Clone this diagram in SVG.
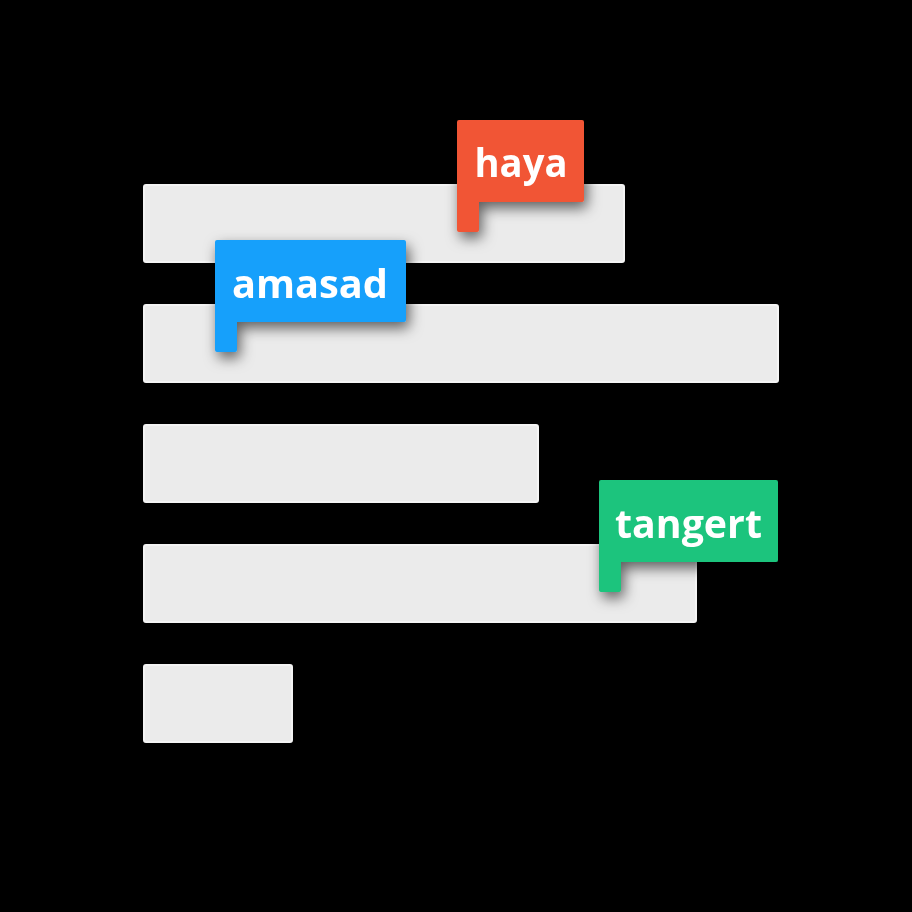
<svg xmlns="http://www.w3.org/2000/svg" width="912" height="912" viewBox="0 0 912 912">
<defs>
<style>
.bar{fill:#ebebeb;stroke:#f4f4f4;stroke-width:2}
.lbl{font-family:"Open Sans","DejaVu Sans",sans-serif;font-weight:700;font-size:39px;fill:#ffffff}
</style>
<filter id="sh" x="-30%" y="-30%" width="170%" height="180%">
<feDropShadow dx="3" dy="6" stdDeviation="7" flood-color="#000" flood-opacity="0.6"/>
</filter>
</defs>
<rect width="912" height="912" fill="#000"/>
<g id="bars">
<rect id="bar1" class="bar" x="144" y="185" width="480" height="77" rx="2"/>
<rect id="bar2" class="bar" x="144" y="305" width="634" height="77" rx="2"/>
<rect id="bar3" class="bar" x="144" y="425" width="394" height="77" rx="2"/>
<rect id="bar4" class="bar" x="144" y="545" width="552" height="77" rx="2"/>
<rect id="bar5" class="bar" x="144" y="665" width="148" height="77" rx="2"/>
</g>
<g id="connectors"></g>
<g id="haya" filter="url(#sh)">
<path d="M459,120 H582 Q584,120 584,122 V200 Q584,202 582,202 H479 V230 Q479,232 477,232 H459 Q457,232 457,230 V122 Q457,120 459,120 Z" fill="#f15535"/>
<text class="lbl" x="521" y="177" text-anchor="middle" textLength="93" lengthAdjust="spacingAndGlyphs">haya</text>
</g>
<g id="amasad" filter="url(#sh)">
<path d="M217,240 H404 Q406,240 406,242 V320 Q406,322 404,322 H237 V350 Q237,352 235,352 H217 Q215,352 215,350 V242 Q215,240 217,240 Z" fill="#18a0fb"/>
<text class="lbl" x="310" y="298" text-anchor="middle" textLength="156" lengthAdjust="spacingAndGlyphs">amasad</text>
</g>
<g id="tangert" filter="url(#sh)">
<path d="M601,480 H776 Q778,480 778,482 V560 Q778,562 776,562 H621 V590 Q621,592 619,592 H601 Q599,592 599,590 V482 Q599,480 601,480 Z" fill="#1bc47d"/>
<text class="lbl" x="688.5" y="538" text-anchor="middle" textLength="147" lengthAdjust="spacingAndGlyphs">tangert</text>
</g>
</svg>
